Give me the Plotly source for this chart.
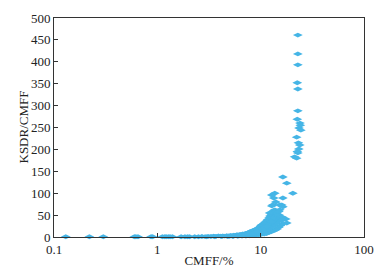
import plotly.graph_objects as go

# sparse points near zero
low_x = [0.13, 0.22, 0.30, 0.60, 0.62, 0.65, 0.87, 0.90, 1.12, 1.18, 1.22, 1.28, 1.33, 1.40, 1.70, 1.85, 1.96, 2.05, 2.3]
low_y = [0.5, 0.5, 0.5, 0.5, 0.5, 0.5, 0.5, 0.5, 0.5, 0.5, 0.5, 0.5, 0.5, 0.5, 0.5, 0.5, 0.5, 0.5, 0.5]

# dense cluster
mid_x = [2.5, 2.7, 2.9, 3.1, 3.3, 3.5, 3.7, 3.9, 4.1, 4.3, 4.5, 4.7, 4.9, 5.1, 5.3, 5.5,
         5.7, 5.9, 6.1, 6.3, 6.5, 6.7, 6.9, 7.1, 7.3, 7.5, 7.7, 7.9, 8.1, 8.3, 8.5, 8.7,
         8.9, 9.1, 9.3, 9.5, 9.7, 9.9, 10.1, 10.3, 10.5, 10.7, 10.9, 11.1, 11.3, 11.5,
         11.7, 11.9, 12.1, 12.3, 12.5, 12.7, 12.9, 13.1, 13.4, 13.7, 14.0, 14.3, 14.6,
         3.0, 3.6, 4.2, 4.8, 5.4, 6.0, 6.6, 7.2, 7.8, 8.4, 9.0, 9.6, 10.2, 10.8, 11.4,
         12.0, 12.6, 13.2, 13.8, 14.4, 15.0, 15.6, 16.2,
         5.0, 6.2, 7.0, 8.0, 8.8, 9.4, 10.0, 10.6, 11.2, 11.8, 12.4, 13.0, 13.6, 14.2,
         14.8, 15.3, 15.8, 9.8, 10.4, 11.0, 11.6, 12.2, 12.8, 13.3, 13.9, 14.5, 15.1,
         7.5, 8.2, 8.6, 9.2, 10.9, 11.5, 12.7, 13.5]
mid_y = [0.5, 1.0, 0.8, 1.5, 1.0, 2.0, 1.5, 2.5, 2.0, 2.5, 2.0, 3.0, 2.5, 3.5, 3.0, 4.0,
         3.5, 5.0, 4.0, 6.0, 5.0, 7.0, 6.0, 8.0, 7.0, 9.0, 10.0, 12.0, 11.0, 14.0, 13.0, 16.0,
         15.0, 18.0, 17.0, 20.0, 21.0, 24.0, 26.0, 28.0, 27.0, 30.0, 32.0, 34.0, 33.0, 37.0,
         40.0, 38.0, 44.0, 48.0, 46.0, 52.0, 50.0, 56.0, 60.0, 62.0, 58.0, 54.0, 48.0,
         0.3, 0.5, 0.8, 1.0, 1.0, 1.5, 2.0, 2.0, 3.0, 3.5, 4.0, 5.0, 6.0, 7.0, 8.0,
         10.0, 12.0, 14.0, 16.0, 18.0, 22.0, 26.0, 30.0,
         1.5, 2.5, 4.0, 5.5, 7.0, 9.0, 11.0, 13.0, 15.0, 18.0, 21.0, 24.0, 28.0, 32.0,
         36.0, 40.0, 44.0, 15.0, 19.0, 22.0, 26.0, 30.0, 34.0, 38.0, 42.0, 46.0, 50.0,
         5.0, 8.0, 9.0, 12.0, 20.0, 24.0, 35.0, 45.0]

# scattered middle points
sc_x = [16.4, 17.9, 20.5, 13.7, 13.4, 16.4, 12.8, 16.0, 15.3, 17.5, 14.6, 12.8, 13.1,
        15.3, 16.4, 12.2, 14.6, 16.0, 16.4, 17.9, 14.0, 15.0]
sc_y = [137, 123, 100, 100, 89, 89, 71, 73, 62, 41, 46, 96, 73,
        73, 69, 55, 50, 46, 39, 32, 80, 58]

# upper column
up_x = [22.9, 22.9, 22.9, 22.6, 22.9, 22.9, 22.6, 24.0, 23.5, 24.5, 22.3, 23.9, 23.4,
        22.9, 21.3, 22.3, 22.6, 24.2, 23.2]
up_y = [461, 418, 393, 352, 338, 288, 269, 260, 249, 244, 228, 210, 201,
        192, 183, 180, 195, 255, 215]

xs = low_x + mid_x + sc_x + up_x
ys = low_y + mid_y + sc_y + up_y

font = dict(family="Liberation Serif", size=13, color="#222")

fig = go.Figure(go.Scatter(
    x=xs, y=ys, mode="markers",
    marker=dict(symbol="diamond-wide", size=7, color="#45B5E6", line=dict(width=0)),
    cliponaxis=False,
))

# page body has an 8px margin, so the figure is 8px smaller and offset
fig.update_layout(
    width=377, height=265,
    margin=dict(l=46, r=21, t=10, b=36),
    paper_bgcolor="white", plot_bgcolor="white",
    showlegend=False, font=font,
    annotations=[dict(
        text="KSDR/CMFF", textangle=-90, xref="paper", yref="paper",
        x=0, y=0.5, xanchor="center", yanchor="middle", xshift=-31,
        showarrow=False, font=font,
    )],
)
fig.update_xaxes(
    type="log", range=[-1, 2], automargin=False,
    tickvals=[0.1, 1, 10, 100], ticktext=["0.1", "1", "10", "100"],
    ticks="inside", ticklen=4, tickcolor="#333",
    showline=True, linecolor="#333", linewidth=1, mirror=True,
    showgrid=False, zeroline=False,
    title=dict(text="CMFF/%", font=font, standoff=0),
)
fig.update_yaxes(
    range=[0, 500], dtick=50, automargin=False,
    ticks="inside", ticklen=4, tickcolor="#333",
    showline=True, linecolor="#333", linewidth=1, mirror=True,
    showgrid=False, zeroline=False,
)

fig.write_html("out.html")
